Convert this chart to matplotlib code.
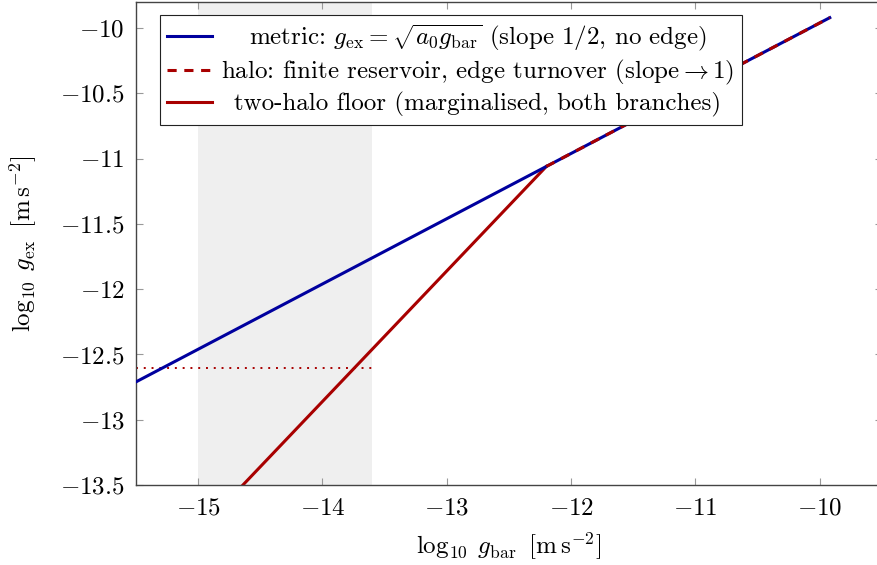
import numpy as np
import matplotlib
matplotlib.use("Agg")
import matplotlib.pyplot as plt
from matplotlib.lines import Line2D

# ---- data ----
log_a0 = -9.92              # log10 a0 [m s^-2]
x_metric = [-15.5, -9.92]   # metric branch extent (slope 1/2)
x_halo = [-12.2, -9.92]     # halo branch extent (follows metric above the edge)
x_floor = [-14.7, -12.2]    # two-halo floor (slope 1 below the edge)
floor_slope = 1.0
band = [-15.0, -13.6]       # shaded region
dotted_y = -12.6
dotted_x = [-15.5, -13.6]
xticks = [-15, -14, -13, -12, -11, -10]
yticks = [-10, -10.5, -11, -11.5, -12, -12.5, -13, -13.5]

labels = [r"metric: $g_{\rm ex}=\sqrt{a_0 g_{\rm bar}}$ (slope 1/2, no edge)",
          r"halo: finite reservoir, edge turnover (slope$\rightarrow$1)",
          r"two-halo floor (marginalised, both branches)"]

plt.rcParams['font.family'] = 'serif'
plt.rcParams['font.serif'] = ['cmr10', 'DejaVu Serif']
plt.rcParams['mathtext.fontset'] = 'cm'
plt.rcParams['axes.formatter.use_mathtext'] = True
plt.rcParams['axes.unicode_minus'] = True

BLUE = '#00009e'
RED = '#a80000'
FS = 18

fig = plt.figure(figsize=(8.78, 5.65), dpi=100)
ax = fig.add_axes([136/878, 1-485/565, (882-136)/878, (485-2)/565])

def metric(x):
    x = np.asarray(x, float)
    return 0.5 * (x + log_a0)

ax.axvspan(band[0], band[1], color='#efefef', lw=0, zorder=0)

xe = x_floor[1]
xf = np.array(x_floor)
yf = metric(xe) + floor_slope * (xf - xe)
ax.plot(xf, yf, color=RED, lw=2.2, zorder=2)
ax.plot(x_metric, metric(x_metric), color=BLUE, lw=2.2, zorder=3)
ax.plot(x_halo, metric(x_halo), color=RED, lw=2.2, ls=(0, (3, 2.5)), zorder=4)
ax.plot(dotted_x, [dotted_y, dotted_y], color=RED, lw=1.4, ls=(0, (1, 3)), zorder=2)

ax.set_xlim(-15.5, -9.5)
ax.set_ylim(-13.5, -9.8)
ax.set_xticks(xticks)
ax.set_yticks(yticks)
ax.set_xticklabels([r"$-%g$" % abs(v) for v in xticks])
ax.set_yticklabels([r"$-%g$" % abs(v) for v in yticks])
ax.tick_params(direction='in', length=5, width=0.8, color='#999999',
               top=True, right=True, labelsize=FS)
ax.tick_params(axis='y', pad=8)
ax.tick_params(axis='x', pad=9)
for s in ax.spines.values():
    s.set_linewidth(1.0)
    s.set_color('#444444')

ax.set_xlabel(r"$\log_{10}\;g_{\rm bar}\;\;[\mathrm{m\,s^{-2}}]$", fontsize=FS, labelpad=8)
ax.set_ylabel(r"$\log_{10}\;g_{\rm ex}\;\;[\mathrm{m\,s^{-2}}]$", fontsize=FS, labelpad=15)

handles = [Line2D([], [], color=BLUE, lw=2.2),
           Line2D([], [], color=RED, lw=2.2, ls=(0, (3, 2.5))),
           Line2D([], [], color=RED, lw=2.2)]
leg = ax.legend(handles, labels, loc='upper left', bbox_to_anchor=(0.032, 0.973),
                borderaxespad=0, fancybox=False, edgecolor='#222222', framealpha=1,
                fontsize=FS, handlelength=1.8, handletextpad=0.35, labelspacing=0.2,
                borderpad=0.3)
leg.get_frame().set_linewidth(0.8)
leg.set_zorder(10)

fig.canvas.draw()
r = fig.canvas.get_renderer()
texts = leg.get_texts()
widths = [t.get_window_extent(r).width for t in texts]
mw = max(widths)
for t, w in zip(texts, widths):
    t.set_position(((mw - w) / 2, 0))

fig.savefig("out.png", dpi=100)
